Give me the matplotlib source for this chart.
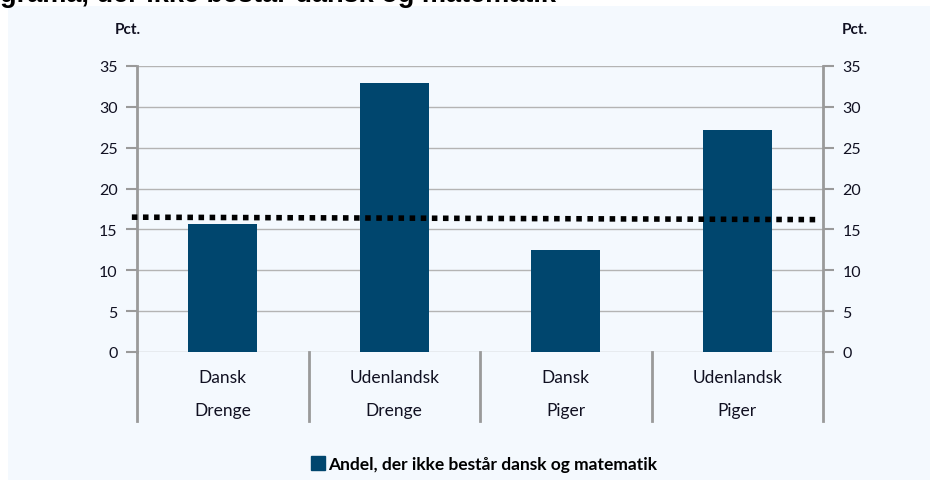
import matplotlib.pyplot as plt
from matplotlib.patches import Rectangle, Patch

plt.rcParams['font.family'] = ['Lato', 'DejaVu Sans']

herkomst = ['Dansk', 'Udenlandsk', 'Dansk', 'Udenlandsk']
koen = ['Drenge', 'Drenge', 'Piger', 'Piger']
andel = [15.7, 32.9, 12.5, 27.2]
gennemsnit = [16.5, 16.2]
yticks = [0, 5, 10, 15, 20, 25, 30, 35]

bar_color = '#00466e'
grey = '#9a9a9a'
txt = '#111122'

fig = plt.figure(figsize=(9.3, 4.81), dpi=100)
fig.patches.append(Rectangle((8 / 930, 0), 1, 1 - 7 / 481, transform=fig.transFigure,
                             facecolor='#f4f9fe', edgecolor='none', zorder=-10))
# clipped title from the page above
fig.text(0.0, 1 - 2 / 481, 'grama, der ikke består dansk og matematik',
         family='Liberation Sans', weight='bold', fontsize=19.5, color='black',
         ha='left', va='baseline')

ax = fig.add_axes([137 / 930, 128 / 481, 686 / 930, 286 / 481])
ax.set_facecolor('none')
x = list(range(len(andel)))
ax.bar(x, andel, width=0.4, color=bar_color, zorder=3)
ax.set_xlim(-0.5, 3.5)
ax.set_ylim(0, 35)
ax.set_yticks(yticks)
ax.yaxis.grid(True, color='#b4b4b4', linewidth=1.0, zorder=0)
ax.set_axisbelow(True)

ax.plot([-0.53, 3.48], gennemsnit, color='black', linewidth=4,
        linestyle=(0, (1, 1)), dash_capstyle='butt', zorder=4, clip_on=False)

for s in ['top', 'bottom']:
    ax.spines[s].set_visible(False)
for s in ['left', 'right']:
    ax.spines[s].set_color(grey)
    ax.spines[s].set_linewidth(2)
ax.set_xticks([])
ax.tick_params(axis='y', length=8, width=1.5, color=grey, labelsize=11.5,
               labelcolor=txt, pad=6)

ax2 = ax.twinx()
ax2.set_ylim(0, 35)
ax2.set_yticks(yticks)
ax2.tick_params(axis='y', length=8, width=1.5, color=grey, labelsize=11.5,
                labelcolor=txt, pad=6)
for s in ax2.spines.values():
    s.set_visible(False)

# category boxes under the axis
tr = ax.get_xaxis_transform()
for b in [-0.5, 0.5, 1.5, 2.5, 3.5]:
    ax.plot([b, b], [0, -0.241], transform=tr, color=grey, linewidth=2, clip_on=False)
for i in x:
    ax.text(i, -0.087, herkomst[i], transform=tr, ha='center', va='center',
            fontsize=12.5, color=txt)
    ax.text(i, -0.203, koen[i], transform=tr, ha='center', va='center',
            fontsize=12.5, color=txt)

fig.text(128 / 930, 1 - 30 / 481, 'Pct.', weight='bold', fontsize=11,
         ha='center', va='center', color=txt)
fig.text(855 / 930, 1 - 30 / 481, 'Pct.', weight='bold', fontsize=11,
         ha='center', va='center', color=txt)

fig.legend(handles=[Patch(color=bar_color, label='Andel, der ikke består dansk og matematik')],
           loc='center', bbox_to_anchor=(484 / 930, 1 - 465 / 481), frameon=False,
           handlelength=0.8, handleheight=0.8, handletextpad=0.2,
           prop={'weight': 'bold', 'size': 12.5})

fig.savefig('out.png', dpi=100)
